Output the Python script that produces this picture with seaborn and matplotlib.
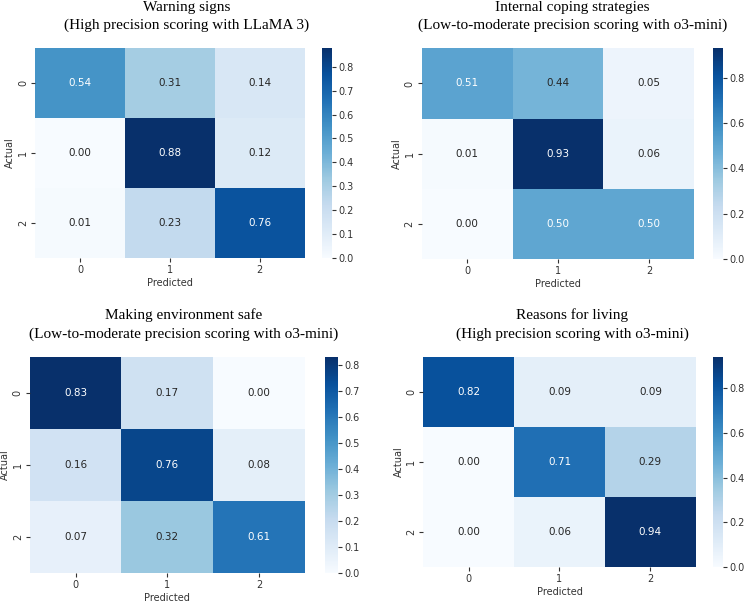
import matplotlib
matplotlib.use("Agg")
import matplotlib.pyplot as plt
import numpy as np
import seaborn as sns

labels = ["0", "1", "2"]

warning_signs = [[0.54, 0.31, 0.14],
                 [0.00, 0.88, 0.12],
                 [0.01, 0.23, 0.76]]
coping_strategies = [[0.51, 0.44, 0.05],
                     [0.01, 0.93, 0.06],
                     [0.00, 0.50, 0.50]]
environment_safe = [[0.83, 0.17, 0.00],
                    [0.16, 0.76, 0.08],
                    [0.07, 0.32, 0.61]]
reasons_living = [[0.82, 0.09, 0.09],
                  [0.00, 0.71, 0.29],
                  [0.00, 0.06, 0.94]]

titles = [
    "Warning signs\n(High precision scoring with LLaMA 3)",
    "Internal coping strategies\n(Low-to-moderate precision scoring with o3-mini)",
    "Making environment safe\n(Low-to-moderate precision scoring with o3-mini)",
    "Reasons for living\n(High precision scoring with o3-mini)",
]
matrices = [warning_signs, coping_strategies, environment_safe, reasons_living]

# layout in figure fractions: heatmap box, colorbar box, title centre
panels = [
    ([0.047, 0.573, 0.362, 0.348], [0.432, 0.573, 0.0134, 0.348], (0.250, 0.999)),
    ([0.566, 0.571, 0.366, 0.349], [0.957, 0.571, 0.0134, 0.349], (0.768, 0.999)),
    ([0.040, 0.051, 0.369, 0.358], [0.436, 0.051, 0.0175, 0.358], (0.246, 0.489)),
    ([0.568, 0.061, 0.366, 0.348], [0.957, 0.061, 0.0134, 0.348], (0.768, 0.489)),
]

text_color = "#333333"
plt.rcParams["text.color"] = text_color
plt.rcParams["axes.labelcolor"] = text_color
plt.rcParams["xtick.color"] = text_color
plt.rcParams["ytick.color"] = text_color

fig = plt.figure(figsize=(7.45, 6.04), dpi=100)

for matrix, title, (ax_box, cb_box, (tx, ty)) in zip(matrices, titles, panels):
    ax = fig.add_axes(ax_box)
    cax = fig.add_axes(cb_box)
    sns.heatmap(np.array(matrix), annot=True, fmt=".2f", cmap="Blues", ax=ax, cbar_ax=cax,
                xticklabels=labels, yticklabels=labels, annot_kws={"fontsize": 7.5})
    ax.set_xlabel("Predicted", fontsize=7, labelpad=2)
    ax.set_ylabel("Actual", fontsize=7, labelpad=2)
    ax.tick_params(labelsize=7, length=3, pad=2)
    ax.set_yticklabels(labels, rotation=90, va="center")
    cax.tick_params(labelsize=7, length=3, pad=1.5)
    fig.text(tx, ty, title, ha="center", va="top", fontsize=11,
             family="Liberation Serif", color="black", linespacing=1.5)

fig.savefig("out.png", dpi=100)
